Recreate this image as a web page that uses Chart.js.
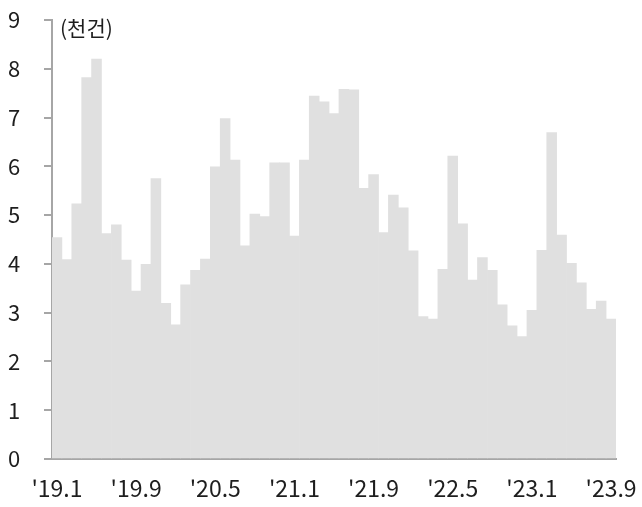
<!DOCTYPE html>
<html>
<head>
<meta charset="utf-8">
<script src="https://cdn.jsdelivr.net/npm/chart.js@4"></script>
<style>
  html, body { margin: 0; padding: 0; background: #fff; }
  #wrap { width: 642px; height: 507px; }
</style>
</head>
<body>
<div id="wrap"><canvas id="chart"></canvas></div>
<script>
// 월별 라벨 ('19.1 ~ '23.9)
const months = [
  "'19.1", "'19.2", "'19.3", "'19.4", "'19.5", "'19.6", "'19.7", "'19.8", "'19.9", "'19.10", "'19.11", "'19.12",
  "'20.1", "'20.2", "'20.3", "'20.4", "'20.5", "'20.6", "'20.7", "'20.8", "'20.9", "'20.10", "'20.11", "'20.12",
  "'21.1", "'21.2", "'21.3", "'21.4", "'21.5", "'21.6", "'21.7", "'21.8", "'21.9", "'21.10", "'21.11", "'21.12",
  "'22.1", "'22.2", "'22.3", "'22.4", "'22.5", "'22.6", "'22.7", "'22.8", "'22.9", "'22.10", "'22.11", "'22.12",
  "'23.1", "'23.2", "'23.3", "'23.4", "'23.5", "'23.6", "'23.7", "'23.8", "'23.9"
];

// 건수 (천건)
const counts = [
  4.54, 4.09, 5.23, 7.82, 8.20, 4.62, 4.80, 4.08, 3.44, 3.99, 5.75, 3.19,
  2.75, 3.57, 3.87, 4.10, 5.99, 6.98, 6.13, 4.37, 5.02, 4.97, 6.07, 6.07,
  4.57, 6.13, 7.44, 7.32, 7.08, 7.58, 7.57, 5.55, 5.83, 4.64, 5.41, 5.15,
  4.27, 2.92, 2.87, 3.89, 6.21, 4.82, 3.67, 4.13, 3.87, 3.16, 2.73, 2.51,
  3.05, 4.28, 6.69, 4.59, 4.01, 3.61, 3.07, 3.24, 2.87
];

const yTicks = [0, 1, 2, 3, 4, 5, 6, 7, 8, 9];
const unitLabel = '(천건)';
const labelStep = 8;

const axisColor = '#a6a6a6';
const textColor = '#1e1e1e';
const fontFamily = '"Noto Sans CJK KR", "Noto Sans", sans-serif';

// 단위 표시
const unitPlugin = {
  id: 'unitLabel',
  afterDraw(chart) {
    const { ctx, chartArea } = chart;
    ctx.save();
    ctx.font = '21px ' + fontFamily;
    ctx.fillStyle = textColor;
    ctx.textAlign = 'left';
    ctx.textBaseline = 'middle';
    ctx.fillText(unitLabel, chartArea.left + 8, chartArea.top + 8);
    ctx.restore();
  }
};

new Chart(document.getElementById('chart'), {
  type: 'bar',
  data: {
    labels: months,
    datasets: [{
      data: counts,
      backgroundColor: '#e0e0e0',
      borderWidth: 0,
      categoryPercentage: 1.0,
      barPercentage: 1.0
    }]
  },
  options: {
    responsive: true,
    maintainAspectRatio: false,
    animation: false,
    layout: { padding: { top: 20, right: 26, bottom: 0, left: 8 } },
    plugins: {
      legend: { display: false },
      tooltip: { enabled: false }
    },
    scales: {
      x: {
        offset: true,
        // 눈금선은 숨기고 tickLength 로 라벨 간격만 확보
        grid: { display: false, drawTicks: true, tickLength: 15 },
        border: { display: true, color: axisColor, width: 2 },
        ticks: {
          autoSkip: false,
          maxRotation: 0,
          padding: 0,
          color: textColor,
          font: { family: fontFamily, size: 23 },
          callback: (value, i) => (i % labelStep === 0 ? months[i] : '')
        },
        afterFit: (s) => { s.height = 48; }
      },
      y: {
        min: 0,
        max: 9,
        afterBuildTicks: (s) => { s.ticks = yTicks.map(v => ({ value: v })); },
        grid: {
          display: true,
          drawOnChartArea: false,
          drawTicks: true,
          tickLength: 8,
          color: axisColor,
          lineWidth: 2
        },
        border: { display: true, color: axisColor, width: 2 },
        ticks: {
          padding: 0,
          crossAlign: 'far',
          color: textColor,
          font: { family: fontFamily, size: 22 }
        },
        afterFit: (s) => { s.width = 44; }
      }
    }
  },
  plugins: [unitPlugin]
});
</script>
</body>
</html>
